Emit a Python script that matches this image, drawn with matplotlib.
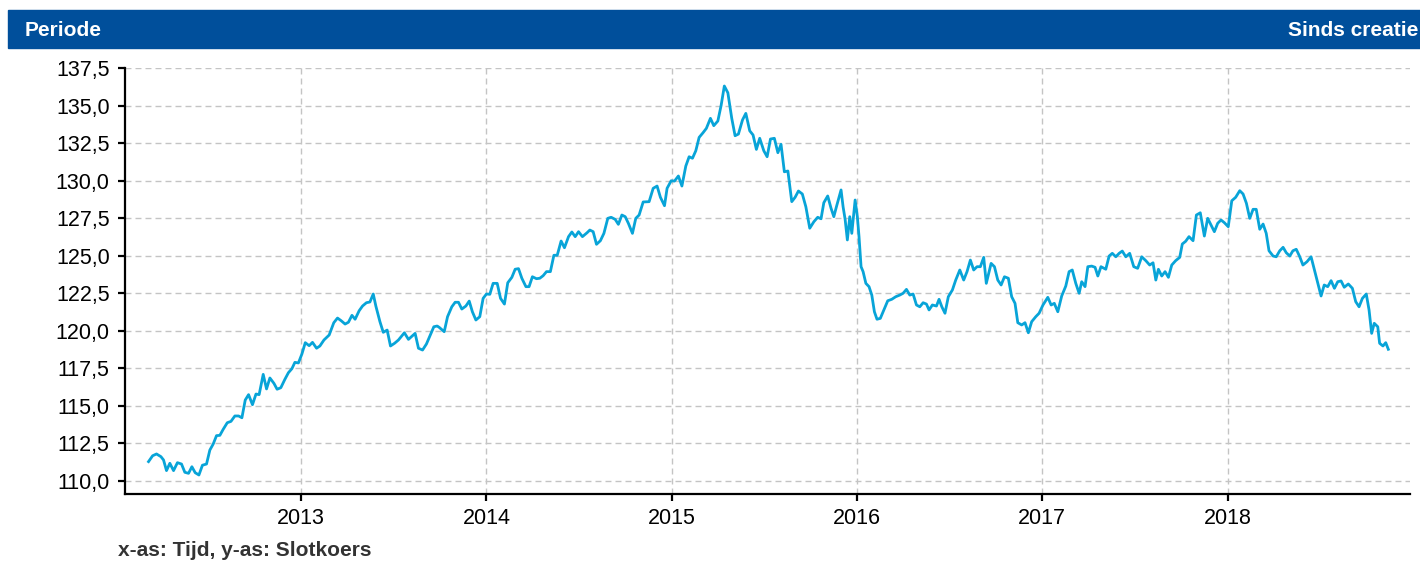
import matplotlib
matplotlib.use("Agg")
import matplotlib.pyplot as plt
from matplotlib.patches import Rectangle

plt.rcParams['font.family'] = ['Liberation Sans', 'DejaVu Sans']

# tijd in decimale jaren, slotkoers
t_jaar = [
    2012.176, 2012.198, 2012.219, 2012.243, 2012.257, 2012.273, 2012.291, 2012.311, 2012.332, 2012.354,
    2012.372, 2012.392, 2012.410, 2012.428, 2012.448, 2012.467, 2012.489, 2012.507, 2012.525, 2012.543,
    2012.561, 2012.579, 2012.601, 2012.621, 2012.642, 2012.662, 2012.680, 2012.698, 2012.716, 2012.737,
    2012.756, 2012.773, 2012.795, 2012.813, 2012.831, 2012.853, 2012.870, 2012.890, 2012.912, 2012.931,
    2012.950, 2012.966, 2012.985, 2013.004, 2013.022, 2013.043, 2013.061, 2013.083, 2013.101, 2013.123,
    2013.151, 2013.176, 2013.196, 2013.216, 2013.237, 2013.255, 2013.274, 2013.291, 2013.313, 2013.331,
    2013.352, 2013.371, 2013.389, 2013.403, 2013.425, 2013.443, 2013.464, 2013.482, 2013.504, 2013.525,
    2013.557, 2013.579, 2013.615, 2013.633, 2013.655, 2013.676, 2013.716, 2013.734, 2013.745, 2013.772,
    2013.790, 2013.813, 2013.831, 2013.849, 2013.867, 2013.889, 2013.907, 2013.924, 2013.943, 2013.964,
    2013.982, 2014.000, 2014.018, 2014.036, 2014.058, 2014.076, 2014.097, 2014.115, 2014.137, 2014.155,
    2014.173, 2014.191, 2014.213, 2014.230, 2014.248, 2014.270, 2014.288, 2014.306, 2014.324, 2014.345,
    2014.364, 2014.382, 2014.403, 2014.421, 2014.443, 2014.461, 2014.479, 2014.497, 2014.518, 2014.543,
    2014.558, 2014.576, 2014.594, 2014.615, 2014.634, 2014.655, 2014.673, 2014.695, 2014.712, 2014.731,
    2014.749, 2014.766, 2014.788, 2014.806, 2014.824, 2014.846, 2014.878, 2014.900, 2014.921, 2014.939,
    2014.961, 2014.975, 2014.997, 2015.015, 2015.036, 2015.055, 2015.076, 2015.094, 2015.112, 2015.130,
    2015.148, 2015.169, 2015.187, 2015.209, 2015.227, 2015.249, 2015.267, 2015.284, 2015.303, 2015.324,
    2015.342, 2015.360, 2015.382, 2015.400, 2015.421, 2015.439, 2015.457, 2015.475, 2015.497, 2015.515,
    2015.533, 2015.554, 2015.573, 2015.590, 2015.608, 2015.627, 2015.648, 2015.666, 2015.684, 2015.705,
    2015.724, 2015.745, 2015.767, 2015.788, 2015.806, 2015.821, 2015.842, 2015.860, 2015.875, 2015.889,
    2015.903, 2015.914, 2015.925, 2015.936, 2015.948, 2015.961, 2015.972, 2015.990, 2016.002, 2016.011,
    2016.022, 2016.033, 2016.048, 2016.065, 2016.080, 2016.094, 2016.108, 2016.126, 2016.145, 2016.166,
    2016.188, 2016.209, 2016.231, 2016.249, 2016.267, 2016.285, 2016.303, 2016.321, 2016.339, 2016.357,
    2016.375, 2016.389, 2016.407, 2016.429, 2016.443, 2016.458, 2016.475, 2016.493, 2016.515, 2016.533,
    2016.555, 2016.576, 2016.594, 2016.612, 2016.630, 2016.648, 2016.666, 2016.684, 2016.698, 2016.724,
    2016.742, 2016.760, 2016.778, 2016.796, 2016.817, 2016.835, 2016.853, 2016.868, 2016.889, 2016.907,
    2016.925, 2016.943, 2016.965, 2016.983, 2017.004, 2017.030, 2017.048, 2017.065, 2017.084, 2017.105,
    2017.127, 2017.145, 2017.162, 2017.181, 2017.199, 2017.213, 2017.231, 2017.246, 2017.267, 2017.285,
    2017.300, 2017.317, 2017.343, 2017.361, 2017.378, 2017.397, 2017.415, 2017.432, 2017.451, 2017.472,
    2017.494, 2017.515, 2017.537, 2017.559, 2017.580, 2017.598, 2017.613, 2017.627, 2017.645, 2017.663,
    2017.681, 2017.699, 2017.720, 2017.742, 2017.756, 2017.774, 2017.792, 2017.814, 2017.832, 2017.853,
    2017.875, 2017.893, 2017.911, 2017.929, 2017.947, 2017.965, 2017.983, 2018.004, 2018.023, 2018.044,
    2018.066, 2018.084, 2018.102, 2018.120, 2018.138, 2018.155, 2018.174, 2018.192, 2018.209, 2018.224,
    2018.246, 2018.263, 2018.282, 2018.300, 2018.317, 2018.336, 2018.353, 2018.371, 2018.390, 2018.407,
    2018.429, 2018.451, 2018.469, 2018.487, 2018.505, 2018.522, 2018.541, 2018.559, 2018.577, 2018.595,
    2018.613, 2018.630, 2018.652, 2018.674, 2018.692, 2018.710, 2018.728, 2018.749, 2018.764, 2018.778,
    2018.792, 2018.811, 2018.821, 2018.839, 2018.854, 2018.868,
]
slotkoers = [
    111.29, 111.68, 111.80, 111.62, 111.40, 110.69, 111.18, 110.69, 111.22, 111.13,
    110.58, 110.51, 110.95, 110.55, 110.40, 111.05, 111.13, 112.06, 112.46, 113.02,
    113.04, 113.44, 113.88, 113.97, 114.33, 114.33, 114.21, 115.39, 115.75, 115.08,
    115.79, 115.75, 117.10, 116.13, 116.86, 116.50, 116.11, 116.21, 116.77, 117.21,
    117.48, 117.90, 117.86, 118.46, 119.21, 119.01, 119.23, 118.84, 118.99, 119.39,
    119.72, 120.54, 120.85, 120.67, 120.45, 120.57, 121.03, 120.77, 121.34, 121.65,
    121.87, 121.92, 122.45, 121.65, 120.61, 119.90, 120.05, 118.99, 119.17, 119.39,
    119.87, 119.43, 119.83, 118.84, 118.72, 119.12, 120.27, 120.32, 120.23, 119.94,
    120.94, 121.60, 121.90, 121.90, 121.45, 121.65, 121.98, 121.27, 120.72, 120.94,
    122.16, 122.45, 122.43, 123.16, 123.16, 122.16, 121.78, 123.20, 123.56, 124.10,
    124.14, 123.50, 122.94, 122.94, 123.60, 123.47, 123.50, 123.67, 123.94, 123.94,
    125.03, 125.03, 125.98, 125.53, 126.27, 126.58, 126.27, 126.60, 126.27, 126.53,
    126.71, 126.60, 125.76, 126.00, 126.49, 127.49, 127.56, 127.42, 127.09, 127.71,
    127.60, 127.16, 126.49, 127.49, 127.71, 128.58, 128.60, 129.49, 129.64, 128.89,
    128.33, 129.49, 129.99, 129.97, 130.31, 129.64, 130.97, 131.59, 131.49, 131.99,
    132.88, 133.19, 133.48, 134.15, 133.66, 133.97, 135.03, 136.30, 135.85, 134.15,
    132.99, 133.10, 134.04, 134.48, 133.32, 133.04, 132.08, 132.82, 131.99, 131.59,
    132.77, 132.82, 131.86, 132.42, 130.59, 130.64, 128.60, 128.89, 129.31, 129.11,
    128.26, 126.83, 127.26, 127.56, 127.46, 128.53, 128.98, 128.16, 127.60, 128.26,
    128.89, 129.38, 128.26, 127.42, 126.05, 127.60, 126.49, 128.71, 127.60, 126.27,
    124.27, 123.94, 123.16, 122.94, 122.38, 121.27, 120.77, 120.83, 121.39, 122.00,
    122.10, 122.27, 122.38, 122.50, 122.76, 122.38, 122.45, 121.72, 121.60, 121.87,
    121.78, 121.39, 121.72, 121.65, 122.10, 121.60, 121.17, 122.27, 122.72, 123.38,
    124.05, 123.38, 123.94, 124.71, 124.05, 124.27, 124.27, 124.89, 123.16, 124.49,
    124.27, 123.38, 123.05, 123.60, 123.50, 122.27, 121.83, 120.54, 120.39, 120.54,
    119.87, 120.61, 120.94, 121.17, 121.72, 122.23, 121.72, 121.83, 121.27, 122.32,
    122.98, 123.94, 124.05, 123.16, 122.50, 123.27, 122.94, 124.27, 124.31, 124.23,
    123.65, 124.27, 124.10, 124.98, 125.16, 124.93, 125.16, 125.31, 124.93, 125.16,
    124.27, 124.16, 124.93, 124.67, 124.38, 124.53, 123.38, 124.10, 123.65, 123.94,
    123.56, 124.38, 124.67, 124.89, 125.78, 125.96, 126.27, 126.00, 127.71, 127.86,
    126.31, 127.49, 127.04, 126.60, 127.16, 127.38, 127.20, 126.93, 128.66, 128.89,
    129.33, 129.11, 128.49, 127.49, 128.09, 128.09, 126.76, 127.11, 126.49, 125.33,
    124.98, 124.93, 125.33, 125.56, 125.20, 124.98, 125.33, 125.43, 124.93, 124.38,
    124.60, 124.93, 124.05, 123.16, 122.32, 123.05, 122.94, 123.34, 122.83, 123.27,
    123.32, 122.90, 123.12, 122.83, 121.94, 121.60, 122.16, 122.45, 121.39, 119.83,
    120.50, 120.27, 119.17, 118.99, 119.21, 118.77,
]

jaren = [2013, 2014, 2015, 2016, 2017, 2018]
y_ticks = [110.0, 112.5, 115.0, 117.5, 120.0, 122.5, 125.0, 127.5, 130.0, 132.5, 135.0, 137.5]

fig = plt.figure(figsize=(14.2, 5.63), dpi=100)

# blauwe kopbalk
fig.patches.append(Rectangle((8 / 1420, 1 - 48 / 563), 1 - 8 / 1420, 38 / 563,
                             transform=fig.transFigure, color='#004f9b', zorder=0))
fig.text(25 / 1420, 1 - 30 / 563, 'Periode', color='white', fontsize=15,
         fontweight='bold', va='center', ha='left')
fig.text(1418 / 1420, 1 - 30 / 563, 'Sinds creatie', color='white', fontsize=15,
         fontweight='bold', va='center', ha='right')

ax = fig.add_axes([125 / 1420, 69 / 563, 1285 / 1420, 426 / 563])
ax.plot(t_jaar, slotkoers, color='#08a4d8', lw=2.0, zorder=3)

ax.set_xlim(2012.049, 2018.985)
ax.set_ylim(109.134, 137.5)
ax.set_xticks(jaren)
ax.set_xticklabels([str(j) for j in jaren])
ax.set_yticks(y_ticks)
ax.set_yticklabels([f'{v:.1f}'.replace('.', ',') for v in y_ticks])

ax.grid(True, color='#c4c4c4', lw=1.0, linestyle=(0, (4.3, 2.9)))
ax.set_axisbelow(True)

for s in ['top', 'right']:
    ax.spines[s].set_visible(False)
for s in ['left', 'bottom']:
    ax.spines[s].set_linewidth(1.6)
    ax.spines[s].set_color('black')

ax.tick_params(axis='y', length=5, width=1.6, pad=6, labelsize=15.5)
ax.tick_params(axis='x', length=5, width=1.6, pad=5, labelsize=15.5)

fig.text(118 / 1420, 1 - 551 / 563, 'x-as: Tijd, y-as: Slotkoers', color='#333333',
         fontsize=15, fontweight='bold', va='center', ha='left')

fig.savefig('out.png', dpi=100)
